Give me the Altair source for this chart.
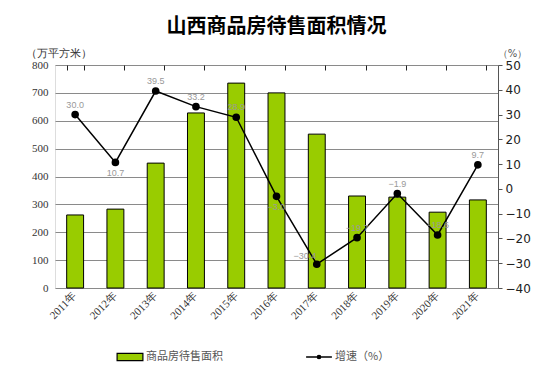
import altair as alt
import pandas as pd

years = ["2011年", "2012年", "2013年", "2014年", "2015年", "2016年",
         "2017年", "2018年", "2019年", "2020年", "2021年"]
area = [262, 283, 448, 628, 735, 700, 552, 330, 326, 272, 316]
growth = [30.0, 10.7, 39.5, 33.2, 28.9, -3.0, -30.4, -19.7, -1.9, -18.6, 9.7]

below_years = ["2012年", "2016年"]
left_years = ["2017年"]

df = pd.DataFrame({"year": years, "area": area, "growth": growth,
                   "s1": "商品房待售面积", "s2": "增速（%）"})

serif = "Liberation Serif"
xscale = alt.Scale(paddingInner=0.58, paddingOuter=0.29)
base = alt.Chart(df)

bars = base.mark_bar(stroke="black", strokeWidth=1).encode(
    x=alt.X("year:N", sort=years, scale=xscale,
            axis=alt.Axis(title=None, labelAngle=-45, labelAlign="right",
                          labelBaseline="middle", labelPadding=6, ticks=False,
                          domain=False, labelFont=serif, labelFontSize=11,
                          labelColor="#333")),
    y=alt.Y("area:Q", scale=alt.Scale(domain=[0, 800]),
            axis=alt.Axis(title="（万平方米）", titleAngle=0, titleX=3, titleY=-12,
                          titleAlign="center", titleBaseline="middle",
                          titleFont=serif, titleFontSize=11, titleFontWeight="normal",
                          titleColor="#333", values=list(range(0, 801, 100)),
                          ticks=False, domain=False, labelPadding=7,
                          labelFont=serif, labelFontSize=11, labelColor="#333",
                          grid=True, gridColor="#8a8a8a", gridWidth=1)),
    color=alt.Color("s1:N", scale=alt.Scale(range=["#99CC00"]),
                    legend=alt.Legend(title=None, orient="none", legendX=66, legendY=283,
                                      symbolType="M-1.6,-0.45H1.6V0.45H-1.6Z",
                                      symbolSize=260, symbolStrokeColor="black",
                                      symbolStrokeWidth=1.2, labelFont="Noto Sans CJK SC",
                                      labelFontSize=11, labelColor="#555", labelOffset=7)),
)

yr = alt.Y("growth:Q", scale=alt.Scale(domain=[-40, 50]),
           axis=alt.Axis(title="（%）", titleAngle=0, titleX=14, titleY=-12,
                         titleAlign="center", titleBaseline="middle",
                         titleFont="DejaVu Sans", titleFontSize=10, titleFontWeight="normal",
                         titleColor="#555", values=list(range(-40, 51, 10)),
                         orient="right", grid=False, domain=True, domainColor="#555",
                         tickSize=4, tickColor="#555", labelPadding=3,
                         labelFont="DejaVu Sans", labelFontSize=12, labelColor="#222"))

xline = alt.X("year:N", sort=years, scale=xscale,
              axis=alt.Axis(title=None, labels=False, domain=False, offset=-5,
                            tickSize=5, tickBand="extent", tickColor="#222"))

line = base.mark_line(color="black", strokeWidth=1.5,
                      point=alt.OverlayMarkDef(color="black", size=32, filled=True)).encode(
    x=xline, y=yr,
    stroke=alt.Stroke("s2:N", scale=alt.Scale(range=["black"]),
                      legend=alt.Legend(title=None, orient="none", legendX=255, legendY=283,
                                        symbolType="M-1.6,0H1.6M0.2,0A0.2,0.2 0 1 1 -0.2,0A0.2,0.2 0 1 1 0.2,0Z",
                                        symbolSize=260, symbolFillColor="black",
                                        symbolStrokeColor="black", symbolStrokeWidth=1.5,
                                        labelFont="Noto Sans CJK SC", labelFontSize=11,
                                        labelColor="#555", labelOffset=7)),
)

def labels(filt, dx, dy):
    return base.transform_filter(filt).mark_text(
        dx=dx, dy=dy, font="Liberation Sans", fontSize=9, color="#999").encode(
        x=alt.X("year:N", sort=years, scale=xscale, axis=None),
        y=alt.Y("growth:Q", scale=alt.Scale(domain=[-40, 50]), axis=None),
        text=alt.Text("growth:Q", format=".1f"))

lab_above = labels(~alt.FieldOneOfPredicate(field="year", oneOf=below_years + left_years), 0, -10)
lab_below = labels(alt.FieldOneOfPredicate(field="year", oneOf=below_years), 0, 11)
lab_left = labels(alt.FieldOneOfPredicate(field="year", oneOf=left_years), -12, -8)

chart = alt.layer(bars, line, lab_above, lab_below, lab_left).resolve_scale(
    y="independent", color="independent", stroke="independent"
).resolve_axis(x="independent").properties(
    width=443, height=223,
    title=alt.TitleParams("山西商品房待售面积情况", font="Noto Sans CJK SC", fontSize=20,
                          fontWeight="bold", color="black", anchor="middle",
                          frame="group", offset=10),
    autosize=alt.AutoSizeParams(type="none"),
    padding={"left": 47, "top": 57, "right": 50, "bottom": 80},
).configure_view(stroke="#444", strokeWidth=1).configure(background="white")

chart.save("out.html", embed_options={"renderer": "svg", "actions": False})
